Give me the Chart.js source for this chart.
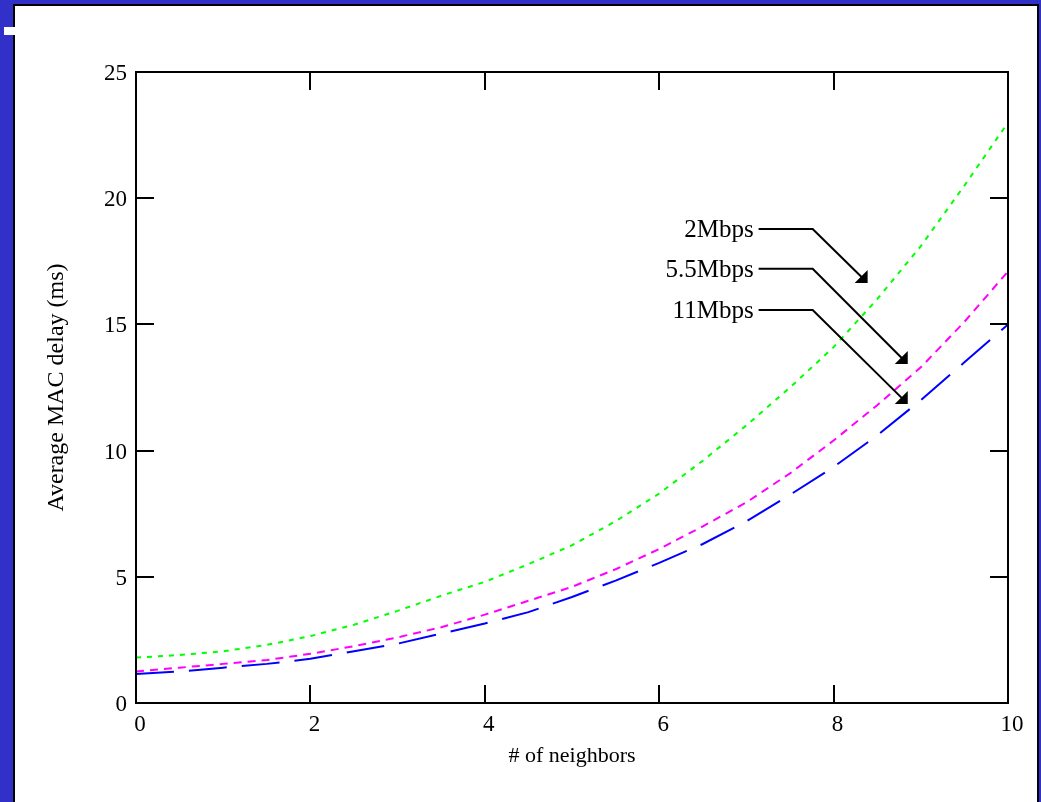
<!DOCTYPE html>
<html>
<head>
<meta charset="utf-8">
<script src="https://cdn.jsdelivr.net/npm/chart.js@4.4.1/dist/chart.umd.min.js"></script>
<style>
html,body{margin:0;padding:0;background:#3131c9;overflow:hidden;}
#c{position:absolute;left:0;top:0;}
</style>
</head>
<body>
<canvas id="c" width="1041" height="802"></canvas>
<script>
// ---- data ----
const neighbors   = [0,0.5,1,1.5,2,2.5,3,3.5,4,4.5,5,5.5,6,6.5,7,7.5,8,8.5,9,9.5,10];
const delay2Mbps  = [1.8,1.9,2.05,2.3,2.65,3.1,3.65,4.25,4.8,5.5,6.25,7.2,8.3,9.6,11.0,12.5,14.1,16.0,18.1,20.5,23.0];
const delay55Mbps = [1.25,1.4,1.55,1.7,1.95,2.25,2.6,3.0,3.5,4.05,4.6,5.3,6.1,7.0,7.95,9.1,10.4,11.8,13.3,15.1,17.1];
const delay11Mbps = [1.15,1.25,1.4,1.55,1.75,2.05,2.35,2.75,3.15,3.6,4.2,4.85,5.55,6.3,7.2,8.25,9.35,10.6,12.0,13.5,15.0];
const seriesLabels = ['2Mbps','5.5Mbps','11Mbps'];
const xTickValues = [0,2,4,6,8,10];
const yTickValues = [0,5,10,15,20,25];
const xTitle = '# of neighbors';
const yTitle = 'Average MAC delay (ms)';

// annotation callouts (in data units)
const callouts = [
  {label:'2Mbps',   y:18.78, x0:7.14, x1:7.76, tipX:8.39, tipY:16.64},
  {label:'5.5Mbps', y:17.20, x0:7.14, x1:7.76, tipX:8.85, tipY:13.43},
  {label:'11Mbps',  y:15.57, x0:7.14, x1:7.76, tipX:8.85, tipY:11.85}
];

const FONT = 'Liberation Serif, Times New Roman, serif';
const series = [delay2Mbps, delay55Mbps, delay11Mbps];
const colors = ['#00ff00','#ff00ff','#0000ff'];
const dashes = [[5,6],[8,6],[38,15]];

const toPts = arr => neighbors.map((x,i)=>({x:x,y:arr[i]}));

const bgPlugin = {
  id:'bg',
  beforeDraw(chart){
    const ctx = chart.ctx;
    ctx.save();
    ctx.fillStyle = '#3131c9';
    ctx.fillRect(0,0,chart.width,chart.height);
    ctx.fillStyle = '#ffffff';
    ctx.fillRect(14,5,1024,820);
    ctx.strokeStyle = '#000000';
    ctx.lineWidth = 2;
    ctx.beginPath();
    ctx.moveTo(14,900); ctx.lineTo(14,5); ctx.lineTo(1038,5); ctx.lineTo(1038,900);
    ctx.stroke();
    ctx.fillStyle = '#ffffff';
    ctx.fillRect(4,27,11,8);
    ctx.restore();
  }
};

const framePlugin = {
  id:'frame',
  afterDraw(chart){
    const ctx = chart.ctx;
    const a = chart.chartArea;
    const xs = chart.scales.x, ys = chart.scales.y;
    ctx.save();
    ctx.strokeStyle = '#000';
    ctx.lineWidth = 2;
    ctx.strokeRect(a.left, a.top, a.right-a.left, a.bottom-a.top);
    const TL = 18;
    ctx.beginPath();
    xs.ticks.forEach(t=>{
      const px = Math.round(xs.getPixelForValue(t.value));
      ctx.moveTo(px,a.bottom); ctx.lineTo(px,a.bottom-TL);
      ctx.moveTo(px,a.top); ctx.lineTo(px,a.top+TL);
    });
    ys.ticks.forEach(t=>{
      const py = Math.round(ys.getPixelForValue(t.value));
      ctx.moveTo(a.left,py); ctx.lineTo(a.left+TL,py);
      ctx.moveTo(a.right,py); ctx.lineTo(a.right-TL,py);
    });
    ctx.stroke();

    // callouts
    ctx.font = '25px ' + FONT;
    ctx.fillStyle = '#000';
    ctx.textAlign = 'right';
    ctx.textBaseline = 'alphabetic';
    callouts.forEach(c=>{
      const y = ys.getPixelForValue(c.y);
      const x0 = xs.getPixelForValue(c.x0);
      const x1 = xs.getPixelForValue(c.x1);
      const tx = xs.getPixelForValue(c.tipX);
      const ty = ys.getPixelForValue(c.tipY);
      ctx.fillText(c.label, x0-5, y+8);
      ctx.beginPath();
      ctx.moveTo(x0,y); ctx.lineTo(x1,y); ctx.lineTo(tx-4,ty-4);
      ctx.stroke();
      ctx.beginPath();
      ctx.moveTo(tx,ty); ctx.lineTo(tx,ty-13); ctx.lineTo(tx-13,ty); ctx.closePath();
      ctx.fill();
    });
    ctx.restore();
  }
};

new Chart(document.getElementById('c'), {
  type:'line',
  data:{
    datasets: series.map((s,i)=>({
      label: seriesLabels[i],
      data: toPts(s),
      borderColor: colors[i],
      backgroundColor: colors[i],
      borderWidth: 2,
      borderDash: dashes[i],
      pointRadius: 0,
      tension: 0,
      fill: false
    }))
  },
  options:{
    responsive:false,
    animation:false,
    devicePixelRatio:1,
    layout:{padding:{left:36,top:72,right:33,bottom:29}},
    plugins:{legend:{display:false},tooltip:{enabled:false}},
    scales:{
      x:{
        type:'linear', min:0, max:10,
        afterFit(s){ s.height = 70; },
        afterBuildTicks(s){ s.ticks = xTickValues.map(v=>({value:v})); },
        grid:{display:false, drawTicks:false}, border:{display:false},
        ticks:{font:{family:FONT,size:23}, color:'#000', padding:8, labelOffset:4, maxRotation:0, autoSkip:false},
        title:{display:true, text:xTitle, color:'#000', font:{family:FONT,size:22}, padding:{top:0,bottom:4}}
      },
      y:{
        type:'linear', min:0, max:25,
        afterFit(s){ s.width = 100; },
        afterBuildTicks(s){ s.ticks = yTickValues.map(v=>({value:v})); },
        grid:{display:false, drawTicks:false}, border:{display:false},
        ticks:{font:{family:FONT,size:23}, color:'#000', padding:9, labelOffset:2, autoSkip:false},
        title:{display:true, text:yTitle, color:'#000', font:{family:FONT,size:24}, padding:{top:6,bottom:0}}
      }
    }
  },
  plugins:[bgPlugin, framePlugin]
});
</script>
</body>
</html>
